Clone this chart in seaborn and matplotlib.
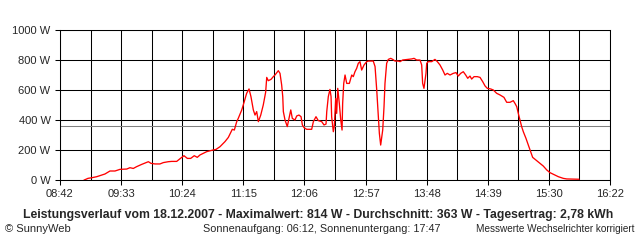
import matplotlib
matplotlib.use("Agg")
import matplotlib.pyplot as plt
import seaborn as sns
import pandas as pd
import numpy as np

# ---- data (minutes after midnight, watts) ----
minutes = [542.1, 542.9, 545.4, 548.5, 552.7, 555.5, 559.6, 563.8, 568.0, 572.2,
           577.8, 580.5, 583.3, 586.1, 590.3, 594.5, 595.9, 598.1, 601.5, 605.6,
           608.4, 612.6, 615.4, 619.6, 622.4, 625.7, 628.5, 631.3, 634.3, 636.8,
           639.1, 644.7, 650.0, 652.5, 655.8, 660.0, 662.8, 666.1, 667.8, 669.8,
           671.1, 674.0, 676.1, 678.1, 680.1, 681.7, 683.7, 685.1, 686.5, 687.9,
           689.9, 692.0, 694.0, 694.9, 696.2, 698.5, 700.4, 701.8, 704.6, 706.0,
           707.4, 708.3, 708.8, 710.2, 712.1, 713.5, 715.0, 716.3, 718.5, 720.0,
           721.9, 723.6, 724.7, 726.1, 728.3, 732.5, 733.9, 736.1, 738.0, 740.9,
           742.8, 744.5, 745.1, 746.4, 747.8, 748.7, 749.2, 750.6, 751.4, 752.6,
           753.4, 754.3, 755.6, 756.8, 757.9, 758.4, 759.3, 760.4, 761.8, 764.0,
           766.0, 767.3, 768.7, 770.1, 771.5, 772.9, 774.3, 776.3, 778.5, 779.9,
           784.0, 785.5, 786.9, 788.2, 789.1, 790.2, 791.1, 791.9, 793.0, 793.8,
           795.2, 796.6, 798.6, 800.3, 802.2, 805.0, 806.4, 808.6, 816.1, 818.1,
           820.3, 823.1, 824.5, 825.3, 826.4, 827.3, 828.1, 828.7, 830.0, 832.9,
           835.6, 837.6, 839.8, 842.1, 844.0, 845.9, 848.2, 850.9, 853.2, 855.1,
           857.1, 859.3, 861.3, 863.0, 864.9, 866.3, 868.3, 871.0, 873.3, 875.5,
           877.5, 879.4, 882.2, 884.4, 887.2, 890.0, 893.3, 895.6, 898.4, 901.1,
           902.5, 904.0, 905.3, 906.7, 908.1, 909.5, 911.7, 913.7, 915.7, 917.3,
           920.1, 923.5, 926.2, 929.1, 931.8, 934.6, 938.8, 942.9, 945.8, 956.1]
watts = [0, 2, 11, 15, 22, 29, 40, 60, 60, 71,
         73, 82, 77, 89, 104, 118, 122, 111, 107, 107,
         116, 122, 124, 124, 142, 162, 144, 144, 162, 151,
         167, 189, 200, 204, 222, 256, 284, 338, 333, 389,
         411, 467, 522, 578, 607, 556, 467, 433, 456, 389,
         433, 500, 585, 684, 662, 671, 689, 700, 729, 711,
         633, 556, 456, 400, 356, 411, 467, 411, 400, 427,
         433, 422, 367, 349, 338, 338, 389, 422, 396, 389,
         367, 373, 456, 556, 604, 556, 422, 322, 356, 544,
         444, 611, 511, 400, 333, 511, 644, 700, 644, 644,
         700, 689, 722, 744, 778, 789, 733, 767, 789, 793,
         793, 756, 600, 422, 311, 233, 289, 333, 489, 644,
         778, 804, 811, 804, 793, 793, 789, 800, 807, 811,
         800, 800, 767, 644, 611, 667, 711, 778, 789, 789,
         804, 789, 767, 733, 700, 711, 700, 711, 716, 693,
         711, 722, 700, 678, 693, 673, 689, 689, 684, 656,
         627, 611, 607, 600, 578, 567, 551, 518, 518, 529,
         511, 489, 444, 400, 356, 322, 278, 233, 189, 151,
         133, 111, 93, 67, 49, 38, 22, 11, 7, 5]
average_w = 363
tick_labels = ["08:42", "09:33", "10:24", "11:15", "12:06",
               "12:57", "13:48", "14:39", "15:30", "16:22"]
y_values = [0, 200, 400, 600, 800, 1000]
y_labels = ["0 W", "200 W", "400 W", "600 W", "800 W", "1000 W"]

title = ("Leistungsverlauf vom 18.12.2007 - Maximalwert: 814 W - "
         "Durchschnitt: 363 W - Tagesertrag: 2,78 kWh")
footer_left = "\u00a9 SunnyWeb"
footer_mid = "Sonnenaufgang: 06:12, Sonnenuntergang: 17:47"
footer_right = "Messwerte Wechselrichter korrigiert"

# ---- plotting ----
sns.set_style("white")
plt.rcParams["font.family"] = ["Liberation Sans", "DejaVu Sans"]
plt.rcParams["font.size"] = 8

df = pd.DataFrame({"minute": minutes, "power": watts})

W, H = 640, 240
fig = plt.figure(figsize=(W / 100, H / 100), dpi=100)
ax = fig.add_axes([60 / W, 1 - 180 / H, 550 / W, 150 / H])

t0 = 8 * 60 + 42
t1 = 16 * 60 + 22
major = [t0 + k * (t1 - t0) / 9 for k in range(10)]
minor = [(major[k] + major[k + 1]) / 2 for k in range(9)]

lw = 0.75
ax.set_xlim(t0, t1)
ax.set_ylim(0, 1000)
ax.set_xticks(major)
ax.set_xticklabels(tick_labels)
ax.set_xticks(minor, minor=True)
ax.set_yticks(y_values)
ax.set_yticklabels(y_labels)

ax.grid(True, which="both", axis="x", color="black", linewidth=lw)
ax.grid(True, which="major", axis="y", color="black", linewidth=lw)
ax.set_axisbelow(True)

ax.axhline(average_w, color="#808080", linewidth=lw, zorder=2)
sns.lineplot(data=df, x="minute", y="power", ax=ax, color="#ff0000",
             linewidth=0.95, zorder=3, estimator=None, sort=False)

ax.set_xlabel("")
ax.set_ylabel("")
ax.tick_params(axis="both", which="major", length=3.6, width=lw,
               color="black", pad=3.2, labelsize=8, direction="out",
               bottom=True, left=True)
ax.tick_params(axis="x", which="minor", length=0)
for s in ax.spines.values():
    s.set_color("black")
    s.set_linewidth(lw)
    s.set_visible(True)

fig.text(318 / W, 1 - 215 / H, title, ha="center", va="center",
         fontsize=8.8, fontweight="bold")
fig.text(5 / W, 1 - 229 / H, footer_left, ha="left", va="center", fontsize=8)
fig.text(203 / W, 1 - 229 / H, footer_mid, ha="left", va="center", fontsize=7.8)
fig.text(634 / W, 1 - 229 / H, footer_right, ha="right", va="center", fontsize=7.2)

fig.savefig("out.png", dpi=100, facecolor="white")
